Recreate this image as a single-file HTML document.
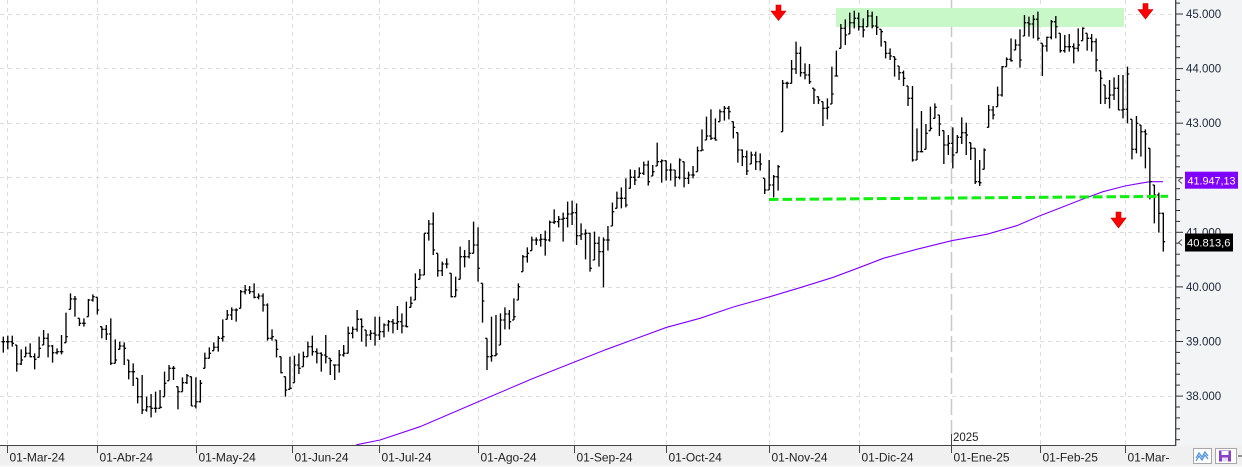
<!DOCTYPE html>
<html><head><meta charset="utf-8">
<style>
html,body{margin:0;padding:0;background:#fff;}
body{width:1242px;height:467px;overflow:hidden;position:relative;font-family:"Liberation Sans",sans-serif;}
svg{position:absolute;left:0;top:0;}
</style></head><body>
<svg id="c" width="1242" height="467" viewBox="0 0 1242 467" xmlns="http://www.w3.org/2000/svg">
<defs><clipPath id="pa"><rect x="0" y="0" width="1176" height="445"/></clipPath></defs>
<rect x="0" y="0" width="1242" height="467" fill="#ffffff"/>
<rect x="1176" y="0" width="66" height="446" fill="#f3f4f6"/>
<rect x="0" y="446" width="1242" height="21" fill="#f0f0f0"/>
<rect x="0" y="465" width="1242" height="2" fill="#f7f7f7"/>

<g stroke="#dcdcdc" stroke-width="1" stroke-dasharray="4,4" fill="none">
<line x1="0" y1="14.5" x2="1175" y2="14.5"/>
<line x1="0" y1="68.5" x2="1175" y2="68.5"/>
<line x1="0" y1="123.5" x2="1175" y2="123.5"/>
<line x1="0" y1="177.5" x2="1175" y2="177.5"/>
<line x1="0" y1="232.5" x2="1175" y2="232.5"/>
<line x1="0" y1="287.5" x2="1175" y2="287.5"/>
<line x1="0" y1="341.5" x2="1175" y2="341.5"/>
<line x1="0" y1="396.5" x2="1175" y2="396.5"/>
<line x1="7.5" y1="0" x2="7.5" y2="445"/>
<line x1="97.5" y1="0" x2="97.5" y2="445"/>
<line x1="196.5" y1="0" x2="196.5" y2="445"/>
<line x1="292.5" y1="0" x2="292.5" y2="445"/>
<line x1="379.5" y1="0" x2="379.5" y2="445"/>
<line x1="478.5" y1="0" x2="478.5" y2="445"/>
<line x1="574.5" y1="0" x2="574.5" y2="445"/>
<line x1="666.5" y1="0" x2="666.5" y2="445"/>
<line x1="769.5" y1="0" x2="769.5" y2="445"/>
<line x1="859.5" y1="0" x2="859.5" y2="445"/>
<line x1="1040.5" y1="0" x2="1040.5" y2="445"/>
<line x1="1125.5" y1="0" x2="1125.5" y2="445"/>
</g>
<line x1="951.5" y1="0" x2="951.5" y2="435" stroke="#c8c8c8" stroke-width="1.5" stroke-dasharray="16,5"/>

<rect x="836" y="8" width="288" height="19" fill="#c8f8c8"/>

<g clip-path="url(#pa)">
<polyline fill="none" stroke="#8000ff" stroke-width="1.1" points="355,446 357,444.7 380,440 420,426.7 480,401 531,379.3 606.7,349.3 666.7,327.3 700,318.3 733.3,307 770,296.7 800,287.7 833.3,277.3 860,267.3 883.3,258.3 916.7,249.3 951.7,240.7 986.7,234.3 1016.7,225.7 1040,215.7 1060,208 1083,199 1103,191.7 1125,186 1140,183.3 1150,181.7 1163,181.7"/>
<path id="bars" fill="none" stroke="#000" stroke-width="1.35" d=""/>
</g>

<line x1="769" y1="199.5" x2="1168" y2="196.3" stroke="#11ee11" stroke-width="3" stroke-dasharray="9.5,4"/>

<g fill="#ff0000" stroke="#c00000" stroke-width="0.6">
<polygon points="776,5 781,5 781,11 786,11 778.5,20.5 771,11 776,11"/>
<polygon points="1143,3.5 1148,3.5 1148,9.5 1153,9.5 1145.5,19 1138,9.5 1143,9.5"/>
<polygon points="1116,212 1121,212 1121,218 1126,218 1118.5,228 1111,218 1116,218"/>
</g>

<!-- axes -->
<line x1="0" y1="445.5" x2="1176" y2="445.5" stroke="#444" stroke-width="1"/>
<line x1="1175.7" y1="0" x2="1175.7" y2="446" stroke="#333" stroke-width="1.2"/>
<g id="rticks" stroke="#333" stroke-width="1"></g>

<g stroke="#444" stroke-width="1">
<line x1="7.5" y1="445" x2="7.5" y2="453"/>
<line x1="97.5" y1="445" x2="97.5" y2="453"/>
<line x1="196.5" y1="445" x2="196.5" y2="453"/>
<line x1="292.5" y1="445" x2="292.5" y2="453"/>
<line x1="379.5" y1="445" x2="379.5" y2="453"/>
<line x1="478.5" y1="445" x2="478.5" y2="453"/>
<line x1="574.5" y1="445" x2="574.5" y2="453"/>
<line x1="666.5" y1="445" x2="666.5" y2="453"/>
<line x1="769.5" y1="445" x2="769.5" y2="453"/>
<line x1="859.5" y1="445" x2="859.5" y2="453"/>
<line x1="951.5" y1="434" x2="951.5" y2="453"/>
<line x1="1040.5" y1="445" x2="1040.5" y2="453"/>
<line x1="1125.5" y1="445" x2="1125.5" y2="453"/>
</g>

<g font-family="Liberation Sans, sans-serif" font-size="12" fill="#222">
<text x="9.5" y="461.5">01-Mar-24</text>
<text x="99.5" y="461.5">01-Abr-24</text>
<text x="198.5" y="461.5">01-May-24</text>
<text x="294.5" y="461.5">01-Jun-24</text>
<text x="381.5" y="461.5">01-Jul-24</text>
<text x="480.5" y="461.5">01-Ago-24</text>
<text x="576.5" y="461.5">01-Sep-24</text>
<text x="668.5" y="461.5">01-Oct-24</text>
<text x="771.5" y="461.5">01-Nov-24</text>
<text x="861.5" y="461.5">01-Dic-24</text>
<text x="953.5" y="461.5">01-Ene-25</text>
<text x="1042.5" y="461.5">01-Feb-25</text>
<text x="1127.5" y="461.5">01-Mar-</text>
<text x="953" y="441" font-size="11.5">2025</text>
</g>

<g font-family="Liberation Sans, sans-serif" font-size="11.5" fill="#1c2738">
<text x="1186" y="18">45.000</text>
<text x="1186" y="72.6">44.000</text>
<text x="1186" y="127.1">43.000</text>
<text x="1186" y="181.7">42.000</text>
<text x="1186" y="236.3">41.000</text>
<text x="1186" y="290.9">40.000</text>
<text x="1186" y="345.5">39.000</text>
<text x="1186" y="400.1">38.000</text>
</g>

<rect x="1185" y="171.7" width="53" height="17" fill="#8000ff"/>
<text x="1187.5" y="184.3" font-family="Liberation Sans, sans-serif" font-size="11" fill="#ffffff" textLength="48" lengthAdjust="spacingAndGlyphs">41.947,13</text>
<rect x="1185" y="233.5" width="48" height="18" fill="#000000"/>
<text x="1187" y="246.6" font-family="Liberation Sans, sans-serif" font-size="11" fill="#ffffff" textLength="43.5" lengthAdjust="spacingAndGlyphs">40.813,6</text>
<g stroke="#555" stroke-width="1" fill="none">
<polyline points="1182,177.5 1178.5,180.5 1182,183.5"/>
<polyline points="1182,239.5 1178.5,242.5 1182,245.5"/>
</g>

<!-- icons -->
<rect x="1193.5" y="448.5" width="18" height="15" fill="#fff" stroke="#a8a8a8"/>
<polyline points="1196,458 1199,453 1202,457 1205,452 1208,456" fill="none" stroke="#4a90d9" stroke-width="1.2"/>
<polyline points="1196,461 1199,456 1202,460 1205,455 1208,459" fill="none" stroke="#4a90d9" stroke-width="1.2"/>
<rect x="1215.5" y="448.5" width="21" height="15" fill="#fff" stroke="#a8a8a8"/>
<rect x="1219" y="450.5" width="12" height="11" fill="#8a3fc8"/>
<rect x="1221.5" y="451" width="7" height="4" fill="#fff"/>
<rect x="1222" y="457.5" width="6" height="4" fill="#e8dcf5"/>
<line x1="1238" y1="456" x2="1242" y2="456" stroke="#333"/>
</svg>
<script>
(function(){
var A=[[440,488,455],[437,478,455],[437,470,460],[465,545,522],[478,525,510],[470,500,490],[460,502,500],[490,538,508],[440,502,475],[420,465,445],[430,502,468],[465,518,488],[475,493,485],[435,493,485],[368,458,440],[310,358,327],[318,380,327],[385,408,400],[385,410,400],[327,380,330],[313,335,320],[322,373,360],[410,445,418],[405,450,432],[385,525,520],[448,520,510],[455,478,468],[457,525,475],[510,568,545],[520,588,545],[565,640,620],[555,672,660],[620,665,650],[612,682,655],[605,668,655],[600,655,652],[545,620,580],[525,572,535],[528,570,535],[590,658,605],[562,605,578],[552,582,557],[560,648,648],[562,655,635],[570,638,580],[488,535,505],[472,505,490],[457,482,472],[438,485,445],[388,455,440],[360,388,375],[352,390,360],[355,395,360],[300,355,305],[285,313,300],[288,312,305],[280,325,322],[310,328,318],[310,365,345],[340,452,445],[418,452,440],[450,502,478],[500,550,548],[560,620,600],[500,598,595],[497,578,525],[490,552,535]];
var B=[[485,530,500],[455,500,470],[437,497,485],[475,520,490],[487,545,495],[435,520,500],[505,555,512],[525,570,525],[480,548,495],[465,500,490],[410,490,430],[410,445,418],[360,425,388],[385,455,410],[420,470,435],[420,450,430],[380,467,435],[380,450,425],[400,442,405],[390,425,395],[387,430,400],[348,420,395],[370,430,408],[335,412,410],[320,352,340],[250,330,292],[237,268,255],[130,255,130],[90,152,102],[67,195,180],[190,260,242],[215,258,222],[205,235,222],[250,322,320],[260,320,300],[170,268,200],[180,232,200],[150,205,190],[95,190,165],[112,275,235],[280,398,333],[445,540,500],[380,515,497],[375,498,492],[370,465,390],[352,418,372],[360,418,395],[325,390,380],[280,330,290],[195,245,200],[172,218,190],[140,182,150],[142,165,150],[132,170,148],[122,197,150],[92,155,97],[58,102,95],[78,112,88],[68,155,85],[35,112,72],[32,105,68],[40,165,137],[100,150,132],[118,208,130],[128,245,235],[125,210,160],[140,230,185],[142,292,150],[108,182,150],[38,108,65],[5,55,25]];
var C=[[292,355,325],[265,352,345],[238,295,262],[240,285,270],[232,262,250],[215,255,225],[212,287,275],[225,258,245],[158,228,215],[208,278,212],[212,272,240],[220,272,240],[240,290,262],[205,268,210],[215,292,265],[245,282,255],[228,265,255],[170,245,182],[118,182,180],[80,150,138],[58,150,145],[85,152,150],[58,95,65],[48,92,55],[48,88,65],[95,145,112],[128,218,180],[178,228,200],[182,255,243],[185,222,195],[185,240,215],[190,242,222],[265,312,300],[210,300,285],[255,322,260],[225,302,230]];
var D=[[240,395,250],[245,265,250],[180,250,207],[125,222,160],[140,230,218],[190,238,225],[192,252,245],[265,312,270],[290,312,300],[305,378,325],[295,358,322],[200,312,282],[152,228,228],[72,145,85],[58,135,105],[38,102,68],[32,85,55],[38,92,80],[55,112,90],[30,80,48],[35,85,78],[48,105,82],[88,140,95],[125,175,160],[145,180,168],[170,230,178],[198,240,218],[212,258,235],[258,318,295],[258,485,480],[385,480,455],[333,455,455],[372,448,400],[320,392,385],[310,355,322],[345,408,372],[392,492,435],[405,465,430],[382,505,465],[405,458,412]];
var E=[[352,432,398],[368,465,405],[428,480,445],[445,552,545],[480,558,548],[445,508,450],[315,382,330],[318,358,345],[260,320,285],[198,290,200],[172,200,178],[115,185,182],[118,150,135],[88,203,180],[45,108,68],[50,110,72],[45,115,58],[35,122,115],[130,228,138],[110,155,112],[60,118,65],[48,115,80],[100,158,152],[105,158,140],[102,155,140],[130,190,145],[85,155,135],[82,122,85],[100,152,115],[102,155,125],[115,215,180],[212,312,235],[255,312,295],[240,325,285],[232,300,265],[225,330,330],[225,355,328],[200,370,222],[358,478,448],[348,460,370]];
var F=[[375,470,395],[388,505,402],[445,598,545],[555,670,585],[578,698,640],[638,755,725]];
var groups=[[190,A],[190,B],[90,C],[0,D],[0,E],[0,F]];
var d='',i=0,prev=null;
for(var g=0;g<groups.length;g++){var off=groups[g][0],arr=groups[g][1];
 for(var k=0;k<arr.length;k++){var b=arr[k];
  var x=3.3+i*4.4788,hi=off+b[0]/3,lo=off+b[1]/3,c=off+b[2]/3;
  var o=(prev===null)?c:Math.min(Math.max(prev,hi),lo);
  d+='M'+x.toFixed(2)+' '+hi.toFixed(2)+'V'+lo.toFixed(2)+'M'+(x-1.8).toFixed(2)+' '+o.toFixed(2)+'H'+x.toFixed(2)+'M'+x.toFixed(2)+' '+c.toFixed(2)+'H'+(x+1.8).toFixed(2);
  prev=c;i++;}}
document.getElementById('bars').setAttribute('d',d);
var t='';
for(var v=37000;v<=45400;v+=200){var y=14+(45000-v)*0.05458;if(y<0||y>445)continue;var major=(v%1000===0);
 t+='<line x1="1176" y1="'+y.toFixed(1)+'" x2="'+(major?1183:1180)+'" y2="'+y.toFixed(1)+'"/>';}
document.getElementById('rticks').innerHTML=t;
})();
</script>
</body></html>
